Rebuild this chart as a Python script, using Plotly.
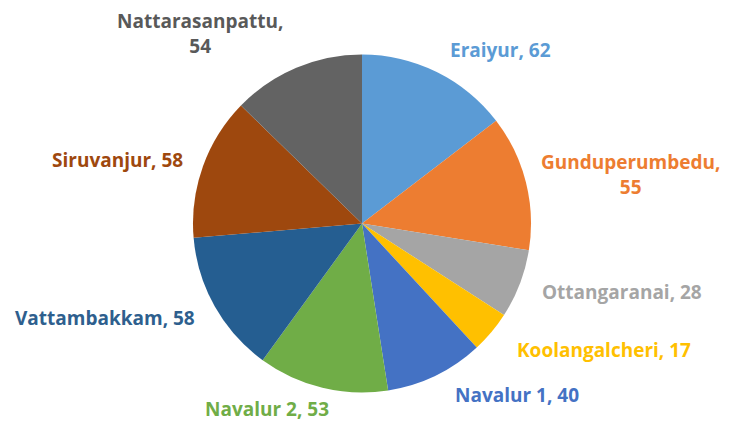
import plotly.graph_objects as go

villages = ["Eraiyur", "Gunduperumbedu", "Ottangaranai", "Koolangalcheri", "Navalur 1",
            "Navalur 2", "Vattambakkam", "Siruvanjur", "Nattarasanpattu"]
counts = [62, 55, 28, 17, 40, 53, 58, 58, 54]
colors = ["#5B9BD5", "#ED7D31", "#A5A5A5", "#FFC000", "#4472C4",
          "#70AD47", "#255E91", "#9E480E", "#636363"]
label_colors = ["#5B9BD5", "#ED7D31", "#A5A5A5", "#FFC000", "#4472C4",
                "#70AD47", "#2E5F8E", "#9E480E", "#595959"]
# label placement (paper coords) and line break choice
label_pos = [(0.680, 0.898), (0.860, 0.598), (0.848, 0.312), (0.823, 0.172), (0.703, 0.063),
             (0.358, 0.029), (0.134, 0.249), (0.151, 0.632), (0.265, 0.939)]
label_break = [False, True, False, False, False, False, False, False, True]

W, H = 724, 413  # page body has an 8px margin; fit inside the 732x421 window

fig = go.Figure()
fig.add_trace(go.Pie(
    labels=villages, values=counts,
    marker=dict(colors=colors, line=dict(color="white", width=0)),
    sort=False, direction="clockwise", rotation=0,
    textinfo="none", hoverinfo="label+value",
    domain=dict(x=[0.2555, 0.7224], y=[0.069, 0.8874]),
    showlegend=False,
))

for name, val, c, (x, y), br in zip(villages, counts, label_colors, label_pos, label_break):
    txt = f"<b>{name},<br>{val}</b>" if br else f"<b>{name}, {val}</b>"
    fig.add_annotation(x=x, y=y, xref="paper", yref="paper", text=txt, showarrow=False,
                       font=dict(family="Open Sans, Liberation Sans, sans-serif", size=19, color=c),
                       xanchor="center", yanchor="middle", align="center")

fig.update_layout(width=W, height=H, margin=dict(l=0, r=0, t=0, b=0),
                  paper_bgcolor="white", plot_bgcolor="white")
fig.write_html("out.html")
